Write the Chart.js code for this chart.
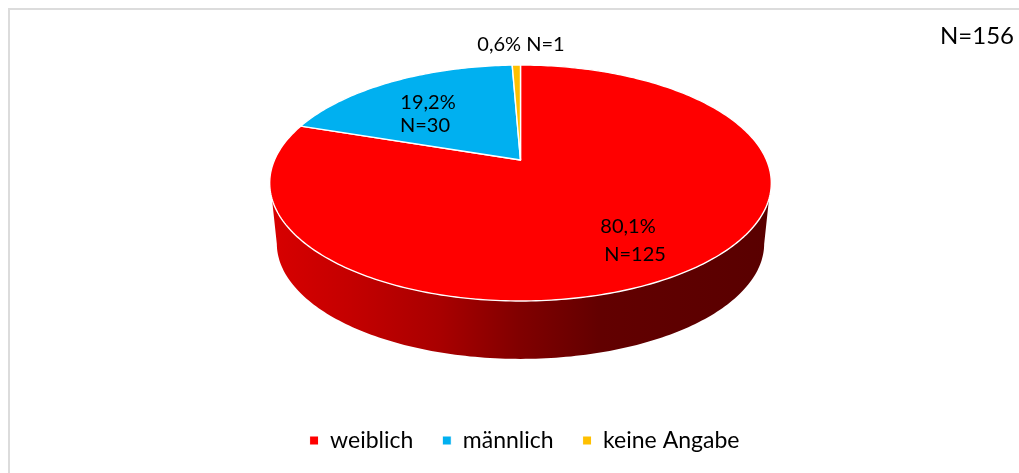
<!DOCTYPE html>
<html><head><meta charset="utf-8">
<style>html,body{margin:0;padding:0;background:#fff}canvas{display:block}</style>
<script src="https://cdn.jsdelivr.net/npm/chart.js@4"></script>
</head><body>
<canvas id="c" width="1019" height="473"></canvas>
<script>
const categories = ['weiblich', 'männlich', 'keine Angabe'];
const counts = [125, 30, 1];
const colors = ['#FF0000', '#00B0F0', '#FFC000'];
const sliceLabels = [
  [['80,1%', 628, 227], ['N=125', 635, 255]],
  [['19,2%', 428, 103], ['N=30', 425, 126]],
  [['0,6% N=1', 521, 45]]
];
const totalLabel = 'N=156';
const FONT = 'Lato, Carlito, "Open Sans", sans-serif';

// perspective projection of the flat pie onto the tilted disc
const K = -0.195;
const topFace = {x: 520.5, y: 160, a: 113.5, b: 246};
const baseFace = {x: 520.5, y: 221, a: 111, b: 239};
function project(f, ang) {
  const u = Math.cos(ang), v = Math.sin(ang), w = 1 + K * v;
  return [f.x + f.b * u / w, f.y + f.a * v / w];
}

const pie3d = {
  id: 'pie3d',
  beforeDraw(chart) {
    const c = chart.ctx;
    c.save();
    c.fillStyle = '#fff';
    c.fillRect(0, 0, chart.width, chart.height);
    c.strokeStyle = '#dcdcdc';
    c.lineWidth = 2;
    c.beginPath();
    c.moveTo(9, chart.height);
    c.lineTo(9, 9);
    c.lineTo(chart.width, 9);
    c.stroke();
    c.restore();
  },
  beforeDatasetDraw(chart, args) {
    const c = chart.ctx;
    const arcs = args.meta.data;
    c.save();
    // side wall
    const g = c.createLinearGradient(270, 0, 772, 0);
    [[0, '#d80000'], [0.16, '#c40000'], [0.34, '#a80000'], [0.5, '#800000'],
     [0.66, '#620000'], [1, '#590000']].forEach(s => g.addColorStop(s[0], s[1]));
    c.fillStyle = g;
    c.beginPath();
    const topStart = Math.asin(0.322), baseStart = Math.asin(0.2), N = 160;
    for (let i = 0; i <= N; i++) {
      const p = project(topFace, topStart + (Math.PI - 2 * topStart) * i / N);
      i ? c.lineTo(p[0], p[1]) : c.moveTo(p[0], p[1]);
    }
    for (let i = N; i >= 0; i--) {
      const p = project(baseFace, baseStart + (Math.PI - 2 * baseStart) * i / N);
      c.lineTo(p[0], p[1]);
    }
    c.closePath();
    c.fill();
    // top face, from the arcs the pie controller computed
    arcs.forEach((arc, idx) => {
      const {startAngle, endAngle} = arc.getProps(['startAngle', 'endAngle'], true);
      const steps = Math.max(2, Math.ceil((endAngle - startAngle) * 60));
      c.beginPath();
      c.moveTo(topFace.x, topFace.y);
      for (let i = 0; i <= steps; i++) {
        const p = project(topFace, startAngle + (endAngle - startAngle) * i / steps);
        c.lineTo(p[0], p[1]);
      }
      c.closePath();
      c.fillStyle = colors[idx];
      c.fill();
      c.strokeStyle = '#fff';
      c.lineWidth = 1.4;
      c.lineJoin = 'round';
      c.stroke();
    });
    c.restore();
    return false;
  },
  afterDraw(chart) {
    const c = chart.ctx;
    c.save();
    c.fillStyle = '#000';
    c.textAlign = 'center';
    c.textBaseline = 'middle';
    c.font = '20px ' + FONT;
    sliceLabels.forEach(group => group.forEach(t => c.fillText(t[0], t[1], t[2])));
    c.font = '24px ' + FONT;
    c.fillText(totalLabel, 977, 36);
    c.restore();
  }
};

new Chart(document.getElementById('c'), {
  type: 'pie',
  data: {
    labels: categories,
    datasets: [{data: counts, backgroundColor: colors, borderColor: '#fff', borderWidth: 1}]
  },
  options: {
    responsive: false,
    animation: false,
    layout: {padding: {left: 30, right: 0, top: 0, bottom: 11}},
    plugins: {
      tooltip: {enabled: false},
      legend: {
        position: 'bottom',
        labels: {
          usePointStyle: true, pointStyle: 'rect', boxWidth: 9, boxHeight: 9,
          padding: 29, color: '#000', font: {family: FONT, size: 23}
        }
      }
    }
  },
  plugins: [pie3d]
});
</script>
</body></html>
